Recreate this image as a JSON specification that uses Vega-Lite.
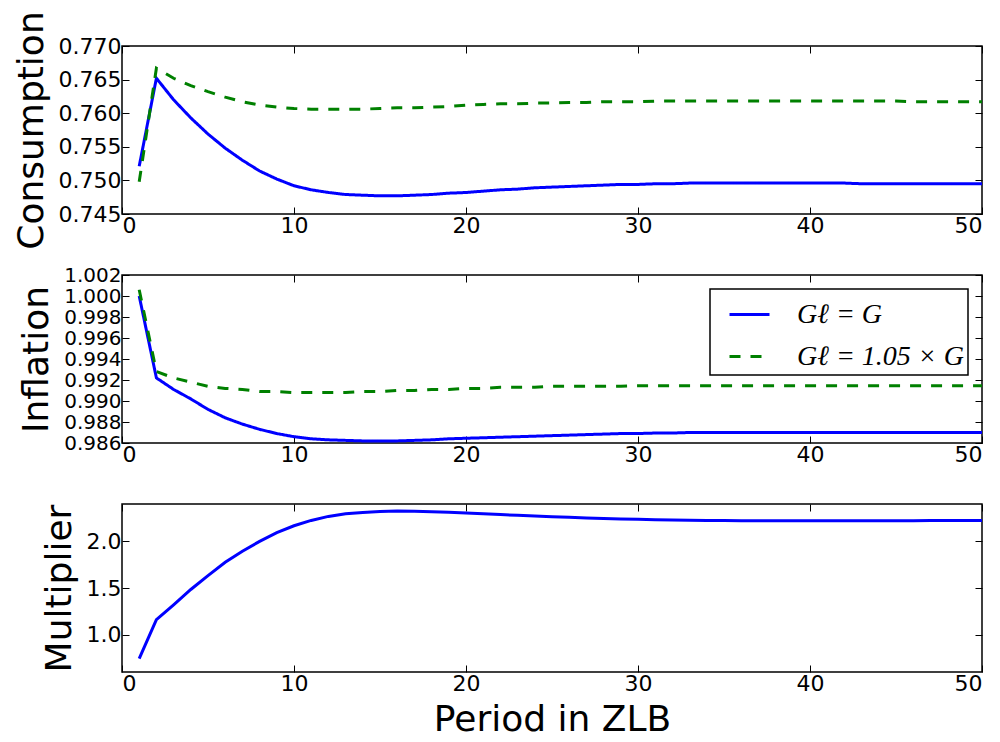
{
  "$schema": "https://vega.github.io/schema/vega-lite/v6.json",
  "background": "white",
  "padding": {"left": 12, "top": 10, "right": 0, "bottom": 0},
  "bounds": "flush",
  "spacing": 61,
  "config": {
    "view": {"stroke": "black", "strokeWidth": 1.5},
    "axis": {
      "domain": false, "grid": false, "tickColor": "black", "tickSize": -7, "tickWidth": 1,
      "labelFont": "DejaVu Sans", "labelFontSize": 22, "labelColor": "black", "labelPadding": 8,
      "titleFont": "DejaVu Sans", "titleFontSize": 36, "titleFontWeight": "normal", "titleColor": "black", "titlePadding": 8
    },
    "legend": {
      "orient": "top-right", "offset": 14, "strokeColor": "black", "strokeWidth": 1.5, "fillColor": "white",
      "padding": 4, "symbolOffset": 14, "symbolType": "stroke", "symbolSize": 1600, "symbolStrokeWidth": 3,
      "labelFont": "Liberation Serif", "labelFontStyle": "italic", "labelFontSize": 28, "labelColor": "black",
      "labelOffset": 26, "rowPadding": 6, "cornerRadius": 0, "labelLimit": 400
    }
  },
  "resolve": {
    "scale": {"color": "independent", "strokeDash": "independent"},
    "legend": {"color": "independent", "strokeDash": "independent"}
  },
  "datasets": {
    "cons": [
      {"t":1,"case":"Gℓ = G","v":0.7521},{"t":2,"case":"Gℓ = G","v":0.7652},{"t":3,"case":"Gℓ = G","v":0.7620},{"t":4,"case":"Gℓ = G","v":0.7593},{"t":5,"case":"Gℓ = G","v":0.7569},
      {"t":6,"case":"Gℓ = G","v":0.7548},{"t":7,"case":"Gℓ = G","v":0.7530},{"t":8,"case":"Gℓ = G","v":0.7514},{"t":9,"case":"Gℓ = G","v":0.7502},{"t":10,"case":"Gℓ = G","v":0.7492},
      {"t":11,"case":"Gℓ = G","v":0.7486},{"t":12,"case":"Gℓ = G","v":0.7482},{"t":13,"case":"Gℓ = G","v":0.7479},{"t":14,"case":"Gℓ = G","v":0.7478},{"t":15,"case":"Gℓ = G","v":0.7477},
      {"t":16,"case":"Gℓ = G","v":0.7477},{"t":17,"case":"Gℓ = G","v":0.7478},{"t":18,"case":"Gℓ = G","v":0.7479},{"t":19,"case":"Gℓ = G","v":0.7481},{"t":20,"case":"Gℓ = G","v":0.7482},
      {"t":21,"case":"Gℓ = G","v":0.7484},{"t":22,"case":"Gℓ = G","v":0.7486},{"t":23,"case":"Gℓ = G","v":0.7487},{"t":24,"case":"Gℓ = G","v":0.7489},{"t":25,"case":"Gℓ = G","v":0.7490},
      {"t":26,"case":"Gℓ = G","v":0.7491},{"t":27,"case":"Gℓ = G","v":0.7492},{"t":28,"case":"Gℓ = G","v":0.7493},{"t":29,"case":"Gℓ = G","v":0.7494},{"t":30,"case":"Gℓ = G","v":0.7494},
      {"t":31,"case":"Gℓ = G","v":0.7495},{"t":32,"case":"Gℓ = G","v":0.7495},{"t":33,"case":"Gℓ = G","v":0.7496},{"t":34,"case":"Gℓ = G","v":0.7496},{"t":35,"case":"Gℓ = G","v":0.7496},
      {"t":36,"case":"Gℓ = G","v":0.7496},{"t":37,"case":"Gℓ = G","v":0.7496},{"t":38,"case":"Gℓ = G","v":0.7496},{"t":39,"case":"Gℓ = G","v":0.7496},{"t":40,"case":"Gℓ = G","v":0.7496},
      {"t":41,"case":"Gℓ = G","v":0.7496},{"t":42,"case":"Gℓ = G","v":0.7496},{"t":43,"case":"Gℓ = G","v":0.7495},{"t":44,"case":"Gℓ = G","v":0.7495},{"t":45,"case":"Gℓ = G","v":0.7495},
      {"t":46,"case":"Gℓ = G","v":0.7495},{"t":47,"case":"Gℓ = G","v":0.7495},{"t":48,"case":"Gℓ = G","v":0.7495},{"t":49,"case":"Gℓ = G","v":0.7495},{"t":50,"case":"Gℓ = G","v":0.7495},
      {"t":1,"case":"Gℓ = 1.05 × G","v":0.7498},{"t":2,"case":"Gℓ = 1.05 × G","v":0.7667},{"t":3,"case":"Gℓ = 1.05 × G","v":0.7652},{"t":4,"case":"Gℓ = 1.05 × G","v":0.7641},{"t":5,"case":"Gℓ = 1.05 × G","v":0.7632},
      {"t":6,"case":"Gℓ = 1.05 × G","v":0.7624},{"t":7,"case":"Gℓ = 1.05 × G","v":0.7617},{"t":8,"case":"Gℓ = 1.05 × G","v":0.7612},{"t":9,"case":"Gℓ = 1.05 × G","v":0.7609},{"t":10,"case":"Gℓ = 1.05 × G","v":0.7607},
      {"t":11,"case":"Gℓ = 1.05 × G","v":0.7606},{"t":12,"case":"Gℓ = 1.05 × G","v":0.7606},{"t":13,"case":"Gℓ = 1.05 × G","v":0.7606},{"t":14,"case":"Gℓ = 1.05 × G","v":0.7606},{"t":15,"case":"Gℓ = 1.05 × G","v":0.7607},
      {"t":16,"case":"Gℓ = 1.05 × G","v":0.7608},{"t":17,"case":"Gℓ = 1.05 × G","v":0.7608},{"t":18,"case":"Gℓ = 1.05 × G","v":0.7609},{"t":19,"case":"Gℓ = 1.05 × G","v":0.7610},{"t":20,"case":"Gℓ = 1.05 × G","v":0.7612},
      {"t":21,"case":"Gℓ = 1.05 × G","v":0.7613},{"t":22,"case":"Gℓ = 1.05 × G","v":0.7614},{"t":23,"case":"Gℓ = 1.05 × G","v":0.7614},{"t":24,"case":"Gℓ = 1.05 × G","v":0.7615},{"t":25,"case":"Gℓ = 1.05 × G","v":0.7615},
      {"t":26,"case":"Gℓ = 1.05 × G","v":0.7616},{"t":27,"case":"Gℓ = 1.05 × G","v":0.7616},{"t":28,"case":"Gℓ = 1.05 × G","v":0.7617},{"t":29,"case":"Gℓ = 1.05 × G","v":0.7617},{"t":30,"case":"Gℓ = 1.05 × G","v":0.7617},
      {"t":31,"case":"Gℓ = 1.05 × G","v":0.7618},{"t":32,"case":"Gℓ = 1.05 × G","v":0.7618},{"t":33,"case":"Gℓ = 1.05 × G","v":0.7618},{"t":34,"case":"Gℓ = 1.05 × G","v":0.7618},{"t":35,"case":"Gℓ = 1.05 × G","v":0.7618},
      {"t":36,"case":"Gℓ = 1.05 × G","v":0.7618},{"t":37,"case":"Gℓ = 1.05 × G","v":0.7618},{"t":38,"case":"Gℓ = 1.05 × G","v":0.7618},{"t":39,"case":"Gℓ = 1.05 × G","v":0.7618},{"t":40,"case":"Gℓ = 1.05 × G","v":0.7618},
      {"t":41,"case":"Gℓ = 1.05 × G","v":0.7618},{"t":42,"case":"Gℓ = 1.05 × G","v":0.7618},{"t":43,"case":"Gℓ = 1.05 × G","v":0.7618},{"t":44,"case":"Gℓ = 1.05 × G","v":0.7618},{"t":45,"case":"Gℓ = 1.05 × G","v":0.7618},
      {"t":46,"case":"Gℓ = 1.05 × G","v":0.7617},{"t":47,"case":"Gℓ = 1.05 × G","v":0.7617},{"t":48,"case":"Gℓ = 1.05 × G","v":0.7617},{"t":49,"case":"Gℓ = 1.05 × G","v":0.7617},{"t":50,"case":"Gℓ = 1.05 × G","v":0.7617}
    ],
    "infl": [
      {"t":1,"case":"Gℓ = G","v":1.0000},{"t":2,"case":"Gℓ = G","v":0.9922},{"t":3,"case":"Gℓ = G","v":0.9911},{"t":4,"case":"Gℓ = G","v":0.9902},{"t":5,"case":"Gℓ = G","v":0.9892},
      {"t":6,"case":"Gℓ = G","v":0.9884},{"t":7,"case":"Gℓ = G","v":0.9878},{"t":8,"case":"Gℓ = G","v":0.9873},{"t":9,"case":"Gℓ = G","v":0.9869},{"t":10,"case":"Gℓ = G","v":0.9866},
      {"t":11,"case":"Gℓ = G","v":0.9864},{"t":12,"case":"Gℓ = G","v":0.9863},{"t":13,"case":"Gℓ = G","v":0.98625},{"t":14,"case":"Gℓ = G","v":0.9862},{"t":15,"case":"Gℓ = G","v":0.9862},
      {"t":16,"case":"Gℓ = G","v":0.9862},{"t":17,"case":"Gℓ = G","v":0.98625},{"t":18,"case":"Gℓ = G","v":0.9863},{"t":19,"case":"Gℓ = G","v":0.9864},{"t":20,"case":"Gℓ = G","v":0.98645},
      {"t":21,"case":"Gℓ = G","v":0.9865},{"t":22,"case":"Gℓ = G","v":0.98655},{"t":23,"case":"Gℓ = G","v":0.9866},{"t":24,"case":"Gℓ = G","v":0.98665},{"t":25,"case":"Gℓ = G","v":0.9867},
      {"t":26,"case":"Gℓ = G","v":0.98675},{"t":27,"case":"Gℓ = G","v":0.9868},{"t":28,"case":"Gℓ = G","v":0.98685},{"t":29,"case":"Gℓ = G","v":0.9869},{"t":30,"case":"Gℓ = G","v":0.9869},
      {"t":31,"case":"Gℓ = G","v":0.98695},{"t":32,"case":"Gℓ = G","v":0.98695},{"t":33,"case":"Gℓ = G","v":0.9870},{"t":34,"case":"Gℓ = G","v":0.9870},{"t":35,"case":"Gℓ = G","v":0.9870},
      {"t":36,"case":"Gℓ = G","v":0.9870},{"t":37,"case":"Gℓ = G","v":0.9870},{"t":38,"case":"Gℓ = G","v":0.9870},{"t":39,"case":"Gℓ = G","v":0.9870},{"t":40,"case":"Gℓ = G","v":0.9870},
      {"t":41,"case":"Gℓ = G","v":0.9870},{"t":42,"case":"Gℓ = G","v":0.9870},{"t":43,"case":"Gℓ = G","v":0.9870},{"t":44,"case":"Gℓ = G","v":0.9870},{"t":45,"case":"Gℓ = G","v":0.9870},
      {"t":46,"case":"Gℓ = G","v":0.9870},{"t":47,"case":"Gℓ = G","v":0.9870},{"t":48,"case":"Gℓ = G","v":0.9870},{"t":49,"case":"Gℓ = G","v":0.9870},{"t":50,"case":"Gℓ = G","v":0.9870},
      {"t":1,"case":"Gℓ = 1.05 × G","v":1.0006},{"t":2,"case":"Gℓ = 1.05 × G","v":0.9928},{"t":3,"case":"Gℓ = 1.05 × G","v":0.9922},{"t":4,"case":"Gℓ = 1.05 × G","v":0.9918},{"t":5,"case":"Gℓ = 1.05 × G","v":0.9914},
      {"t":6,"case":"Gℓ = 1.05 × G","v":0.9912},{"t":7,"case":"Gℓ = 1.05 × G","v":0.9911},{"t":8,"case":"Gℓ = 1.05 × G","v":0.9909},{"t":9,"case":"Gℓ = 1.05 × G","v":0.9909},{"t":10,"case":"Gℓ = 1.05 × G","v":0.9908},
      {"t":11,"case":"Gℓ = 1.05 × G","v":0.9908},{"t":12,"case":"Gℓ = 1.05 × G","v":0.9908},{"t":13,"case":"Gℓ = 1.05 × G","v":0.9908},{"t":14,"case":"Gℓ = 1.05 × G","v":0.9909},{"t":15,"case":"Gℓ = 1.05 × G","v":0.9909},
      {"t":16,"case":"Gℓ = 1.05 × G","v":0.9910},{"t":17,"case":"Gℓ = 1.05 × G","v":0.9910},{"t":18,"case":"Gℓ = 1.05 × G","v":0.9911},{"t":19,"case":"Gℓ = 1.05 × G","v":0.9911},{"t":20,"case":"Gℓ = 1.05 × G","v":0.9912},
      {"t":21,"case":"Gℓ = 1.05 × G","v":0.9912},{"t":22,"case":"Gℓ = 1.05 × G","v":0.9913},{"t":23,"case":"Gℓ = 1.05 × G","v":0.9913},{"t":24,"case":"Gℓ = 1.05 × G","v":0.9913},{"t":25,"case":"Gℓ = 1.05 × G","v":0.9914},
      {"t":26,"case":"Gℓ = 1.05 × G","v":0.9914},{"t":27,"case":"Gℓ = 1.05 × G","v":0.9914},{"t":28,"case":"Gℓ = 1.05 × G","v":0.9914},{"t":29,"case":"Gℓ = 1.05 × G","v":0.9914},{"t":30,"case":"Gℓ = 1.05 × G","v":0.99145},
      {"t":31,"case":"Gℓ = 1.05 × G","v":0.99145},{"t":32,"case":"Gℓ = 1.05 × G","v":0.99145},{"t":33,"case":"Gℓ = 1.05 × G","v":0.99145},{"t":34,"case":"Gℓ = 1.05 × G","v":0.99145},{"t":35,"case":"Gℓ = 1.05 × G","v":0.99145},
      {"t":36,"case":"Gℓ = 1.05 × G","v":0.99145},{"t":37,"case":"Gℓ = 1.05 × G","v":0.99145},{"t":38,"case":"Gℓ = 1.05 × G","v":0.99145},{"t":39,"case":"Gℓ = 1.05 × G","v":0.99145},{"t":40,"case":"Gℓ = 1.05 × G","v":0.99145},
      {"t":41,"case":"Gℓ = 1.05 × G","v":0.99145},{"t":42,"case":"Gℓ = 1.05 × G","v":0.99145},{"t":43,"case":"Gℓ = 1.05 × G","v":0.99145},{"t":44,"case":"Gℓ = 1.05 × G","v":0.99145},{"t":45,"case":"Gℓ = 1.05 × G","v":0.99145},
      {"t":46,"case":"Gℓ = 1.05 × G","v":0.99145},{"t":47,"case":"Gℓ = 1.05 × G","v":0.99145},{"t":48,"case":"Gℓ = 1.05 × G","v":0.99145},{"t":49,"case":"Gℓ = 1.05 × G","v":0.99145},{"t":50,"case":"Gℓ = 1.05 × G","v":0.99145}
    ],
    "mult": [
      {"t":1,"v":0.744},{"t":2,"v":1.160},{"t":3,"v":1.320},{"t":4,"v":1.484},{"t":5,"v":1.633},
      {"t":6,"v":1.776},{"t":7,"v":1.893},{"t":8,"v":2.000},{"t":9,"v":2.093},{"t":10,"v":2.167},
      {"t":11,"v":2.224},{"t":12,"v":2.267},{"t":13,"v":2.295},{"t":14,"v":2.310},{"t":15,"v":2.320},
      {"t":16,"v":2.324},{"t":17,"v":2.322},{"t":18,"v":2.318},{"t":19,"v":2.311},{"t":20,"v":2.303},
      {"t":21,"v":2.295},{"t":22,"v":2.287},{"t":23,"v":2.279},{"t":24,"v":2.271},{"t":25,"v":2.264},
      {"t":26,"v":2.257},{"t":27,"v":2.251},{"t":28,"v":2.245},{"t":29,"v":2.240},{"t":30,"v":2.236},
      {"t":31,"v":2.232},{"t":32,"v":2.229},{"t":33,"v":2.226},{"t":34,"v":2.224},{"t":35,"v":2.222},
      {"t":36,"v":2.221},{"t":37,"v":2.220},{"t":38,"v":2.220},{"t":39,"v":2.220},{"t":40,"v":2.220},
      {"t":41,"v":2.220},{"t":42,"v":2.221},{"t":43,"v":2.221},{"t":44,"v":2.221},{"t":45,"v":2.221},
      {"t":46,"v":2.221},{"t":47,"v":2.222},{"t":48,"v":2.222},{"t":49,"v":2.222},{"t":50,"v":2.222}
    ]
  },
  "vconcat": [
    {
      "width": 860, "height": 168,
      "data": {"name": "cons"},
      "layer": [
        {
          "mark": {"type": "line", "strokeWidth": 3, "clip": true},
          "encoding": {
            "x": {"field": "t", "type": "quantitative", "scale": {"domain": [0, 50], "nice": false},
                  "axis": {"values": [0, 10, 20, 30, 40, 50], "title": null}},
            "y": {"field": "v", "type": "quantitative", "scale": {"domain": [0.745, 0.770], "nice": false, "zero": false},
                  "axis": {"values": [0.745, 0.750, 0.755, 0.760, 0.765, 0.770], "format": ".3f", "title": "Consumption"}},
            "color": {"field": "case", "type": "nominal", "scale": {"domain": ["Gℓ = G", "Gℓ = 1.05 × G"], "range": ["#0000ff", "#008000"]}, "legend": null},
            "strokeDash": {"field": "case", "type": "nominal", "scale": {"domain": ["Gℓ = G", "Gℓ = 1.05 × G"], "range": [[1, 0], [11, 10]]}, "legend": null}
          }
        },
        {
          "mark": {"type": "line", "opacity": 0},
          "encoding": {
            "x": {"field": "t", "type": "quantitative", "axis": {"orient": "top", "labels": false, "title": null, "values": [0, 10, 20, 30, 40, 50]}},
            "y": {"field": "v", "type": "quantitative", "axis": {"orient": "right", "labels": false, "title": null, "values": [0.745, 0.750, 0.755, 0.760, 0.765, 0.770]}}
          }
        }
      ],
      "resolve": {"axis": {"x": "independent", "y": "independent"}}
    },
    {
      "width": 860, "height": 168,
      "data": {"name": "infl"},
      "layer": [
        {
          "mark": {"type": "line", "strokeWidth": 3, "clip": true},
          "encoding": {
            "x": {"field": "t", "type": "quantitative", "scale": {"domain": [0, 50], "nice": false},
                  "axis": {"values": [0, 10, 20, 30, 40, 50], "title": null}},
            "y": {"field": "v", "type": "quantitative", "scale": {"domain": [0.986, 1.002], "nice": false, "zero": false},
                  "axis": {"values": [0.986, 0.988, 0.990, 0.992, 0.994, 0.996, 0.998, 1.000, 1.002], "format": ".3f", "title": "Inflation", "labelFontSize": 20}},
            "color": {"field": "case", "type": "nominal", "scale": {"domain": ["Gℓ = G", "Gℓ = 1.05 × G"], "range": ["#0000ff", "#008000"]}, "legend": {"title": null}},
            "strokeDash": {"field": "case", "type": "nominal", "scale": {"domain": ["Gℓ = G", "Gℓ = 1.05 × G"], "range": [[1, 0], [11, 10]]}, "legend": {"title": null}}
          }
        },
        {
          "mark": {"type": "line", "opacity": 0},
          "encoding": {
            "x": {"field": "t", "type": "quantitative", "axis": {"orient": "top", "labels": false, "title": null, "values": [0, 10, 20, 30, 40, 50]}},
            "y": {"field": "v", "type": "quantitative", "axis": {"orient": "right", "labels": false, "title": null, "values": [0.986, 0.988, 0.990, 0.992, 0.994, 0.996, 0.998, 1.000, 1.002]}}
          }
        }
      ],
      "resolve": {"axis": {"x": "independent", "y": "independent"}}
    },
    {
      "width": 860, "height": 168,
      "data": {"name": "mult"},
      "layer": [
        {
          "mark": {"type": "line", "strokeWidth": 3, "color": "#0000ff", "clip": true},
          "encoding": {
            "x": {"field": "t", "type": "quantitative", "scale": {"domain": [0, 50], "nice": false},
                  "axis": {"values": [0, 10, 20, 30, 40, 50], "title": "Period in ZLB"}},
            "y": {"field": "v", "type": "quantitative", "scale": {"domain": [0.6, 2.4], "nice": false, "zero": false},
                  "axis": {"values": [1.0, 1.5, 2.0], "format": ".1f", "title": "Multiplier"}}
          }
        },
        {
          "mark": {"type": "line", "opacity": 0},
          "encoding": {
            "x": {"field": "t", "type": "quantitative", "axis": {"orient": "top", "labels": false, "title": null, "values": [0, 10, 20, 30, 40, 50]}},
            "y": {"field": "v", "type": "quantitative", "axis": {"orient": "right", "labels": false, "title": null, "values": [1.0, 1.5, 2.0]}}
          }
        }
      ],
      "resolve": {"axis": {"x": "independent", "y": "independent"}}
    }
  ]
}
